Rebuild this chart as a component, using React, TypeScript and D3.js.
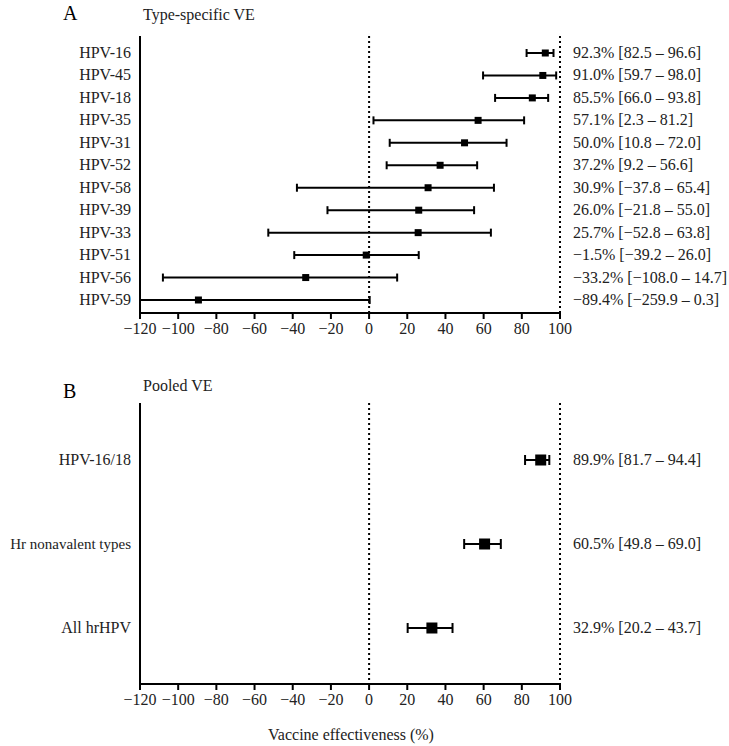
import React from "react";
import * as d3 from "d3";

const typeLabels = ["HPV-16","HPV-45","HPV-18","HPV-35","HPV-31","HPV-52","HPV-58","HPV-39","HPV-33","HPV-51","HPV-56","HPV-59"];
const typeVE = [92.3, 91.0, 85.5, 57.1, 50.0, 37.2, 30.9, 26.0, 25.7, -1.5, -33.2, -89.4];
const typeLo = [82.5, 59.7, 66.0, 2.3, 10.8, 9.2, -37.8, -21.8, -52.8, -39.2, -108.0, -259.9];
const typeHi = [96.6, 98.0, 93.8, 81.2, 72.0, 56.6, 65.4, 55.0, 63.8, 26.0, 14.7, 0.3];

const pooledLabels = ["HPV-16/18", "Hr nonavalent types", "All hrHPV"];
const pooledVE = [89.9, 60.5, 32.9];
const pooledLo = [81.7, 49.8, 20.2];
const pooledHi = [94.4, 69.0, 43.7];

const tickValues = [-120, -100, -80, -60, -40, -20, 0, 20, 40, 60, 80, 100];

const FONT = "Liberation Serif";
const fs = { fontFamily: FONT };
const fmt = (v: number) => (v < 0 ? "\u2212" : "") + Math.abs(v).toFixed(1);
const ciText = (v: number, lo: number, hi: number) => `${fmt(v)}% [${fmt(lo)} \u2013 ${fmt(hi)}]`;

const x = d3.scaleLinear().domain([-120, 100]).range([140, 560]);

function Panel({ labels, ve, lo, hi, top, bottom, yFirst, yLast, marker, letter, letterY, title, titleY }: any) {
  const y = d3.scalePoint<string>().domain(labels).range([yFirst, yLast]);
  const cap = marker > 8 ? 5 : 4;
  return (
    <g>
      <text x={63} y={letterY} fontSize={20} style={fs}>{letter}</text>
      <text x={143} y={titleY} fontSize={16} style={fs} fill="#222">{title}</text>
      <line x1={x(-120)} x2={x(-120)} y1={top} y2={bottom} stroke="#000" strokeWidth={2} />
      <line x1={x(-120) - 1} x2={x(100) + 1} y1={bottom} y2={bottom} stroke="#000" strokeWidth={2} />
      {tickValues.map((t) => (
        <g key={t}>
          <line x1={x(t)} x2={x(t)} y1={bottom} y2={bottom + 6} stroke="#000" strokeWidth={2} />
          <text x={x(t)} y={bottom + 21} textAnchor="middle" fontSize={16} style={fs} fill="#222">
            {t < 0 ? "\u2212" + Math.abs(t) : String(t)}
          </text>
        </g>
      ))}
      {[0, 100].map((r) => (
        <line key={r} x1={x(r)} x2={x(r)} y1={top} y2={bottom} stroke="#000" strokeWidth={2} strokeDasharray="2,3" />
      ))}
      {labels.map((l: string, i: number) => {
        const yy = y(l)!;
        const l0 = Math.max(lo[i], -120);
        const h0 = Math.min(hi[i], 100);
        return (
          <g key={l}>
            <text x={131} y={yy + 5} textAnchor="end" fontSize={l.length > 12 ? 15 : 16} style={fs} fill="#222">{l}</text>
            <line x1={x(l0)} x2={x(h0)} y1={yy} y2={yy} stroke="#000" strokeWidth={2} />
            {lo[i] >= -120 && <line x1={x(l0)} x2={x(l0)} y1={yy - cap} y2={yy + cap} stroke="#000" strokeWidth={2} />}
            <line x1={x(h0)} x2={x(h0)} y1={yy - cap} y2={yy + cap} stroke="#000" strokeWidth={2} />
            <rect x={x(ve[i]) - marker / 2} y={yy - marker / 2} width={marker} height={marker} fill="#000" />
            <text x={573} y={yy + 5} fontSize={16} style={fs} fill="#222">{ciText(ve[i], lo[i], hi[i])}</text>
          </g>
        );
      })}
    </g>
  );
}

export default function App() {
  return (
    <svg width={729} height={746} style={{ display: "block", position: "absolute", left: 0, top: 0, background: "#fff" }}>
      <Panel labels={typeLabels} ve={typeVE} lo={typeLo} hi={typeHi} top={36} bottom={313}
        yFirst={53} yLast={300} marker={7} letter="A" letterY={20} title="Type-specific VE" titleY={20} />
      <Panel labels={pooledLabels} ve={pooledVE} lo={pooledLo} hi={pooledHi} top={403} bottom={684}
        yFirst={460} yLast={628} marker={11} letter="B" letterY={398} title="Pooled VE" titleY={391} />
      <text x={351} y={740} textAnchor="middle" fontSize={16} style={fs} fill="#222">Vaccine effectiveness (%)</text>
    </svg>
  );
}
